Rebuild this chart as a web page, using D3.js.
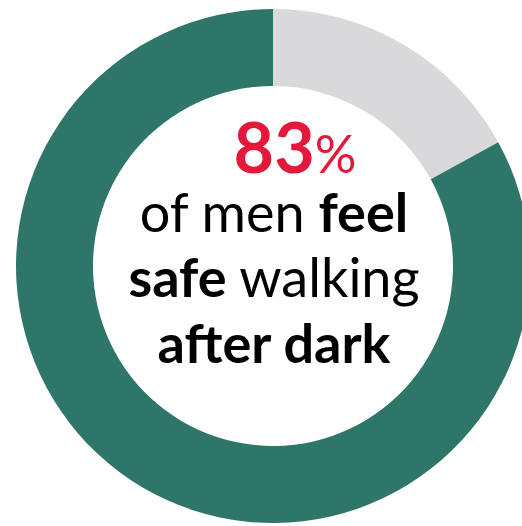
<!DOCTYPE html>
<html>
<head>
<meta charset="utf-8">
<script src="https://cdn.jsdelivr.net/npm/d3@7"></script>
<style>
  html, body { margin: 0; padding: 0; background: #fff; }
  svg { display: block; }
</style>
</head>
<body>
<div id="donut-chart"></div>
<script>
// data
const categories = ["Do not feel safe", "Feel safe"];
const values = [17, 83];
const colors = ["#d9d9db", "#2e766a"];

function draw() {
  const width = 522, height = 526;

  const svg = d3.select("#donut-chart")
    .append("svg")
    .attr("width", width)
    .attr("height", height)
    .attr("viewBox", [0, 0, width, height]);

  const cx = 273, cy = 266;
  const outer = 257, inner = 180;

  const pie = d3.pie().sort(null).value(d => d.value);
  const slices = pie(categories.map((c, i) => ({ category: c, value: values[i] })));

  const arc = d3.arc().outerRadius(outer).innerRadius(inner);

  const colorScale = d3.scaleOrdinal().domain(categories).range(colors);

  const g = svg.append("g").attr("transform", `translate(${cx}, ${cy})`);

  g.selectAll("path")
    .data(slices)
    .join("path")
    .attr("d", arc)
    .attr("fill", d => colorScale(d.data.category));

  // centre label
  const font = "Lato, 'Noto Sans', sans-serif";
  const big = g.append("text")
    .attr("x", 22)
    .attr("y", -93)
    .attr("text-anchor", "middle")
    .attr("font-family", font)
    .attr("fill", "#e3183a");
  big.append("tspan").attr("font-weight", 700).attr("font-size", 70).text(values[1]);
  big.append("tspan").attr("font-weight", 400).attr("font-size", 52).text("%");

  const lines = [
    [["of men ", 400], ["feel", 700]],
    [["safe", 700], [" walking", 400]],
    [["after dark", 700]]
  ];
  const baselines = [-34, 31, 97];

  lines.forEach((parts, i) => {
    const t = g.append("text")
      .attr("x", 1)
      .attr("y", baselines[i])
      .attr("text-anchor", "middle")
      .attr("font-family", font)
      .attr("font-size", 54)
      .attr("fill", "#000");
    parts.forEach(([s, w]) => {
      t.append("tspan").attr("font-weight", w).text(s);
    });
  });
}

draw();
</script>
</body>
</html>
